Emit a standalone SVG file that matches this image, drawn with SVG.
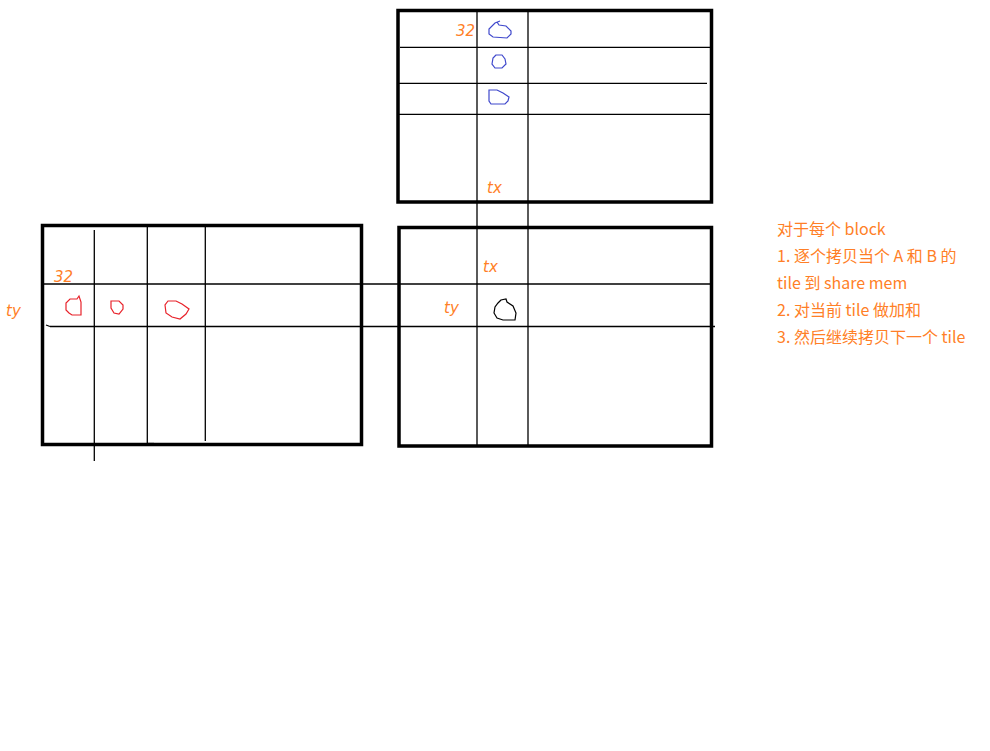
<svg xmlns="http://www.w3.org/2000/svg" width="990" height="751" viewBox="0 0 990 751">
<style>
.box{fill:none;stroke:#000;stroke-width:3.5}
.ln{stroke:#000;stroke-width:1.3;fill:none}
.hw{font-family:"DejaVu Sans",sans-serif;font-size:15px;fill:#ff7f27;font-style:italic}
.txt{font-family:"Noto Sans CJK SC","Noto Sans",sans-serif;font-size:16px;fill:#ff7f27}
.cr{fill:none;stroke:#e8222a;stroke-width:1.2}
.cb{fill:none;stroke:#3f48cc;stroke-width:1.2}
.ck{fill:none;stroke:#000;stroke-width:1.2}
</style>
<rect width="990" height="751" fill="#fff"/>
<g id="connectors">
<line class="ln" x1="477" y1="12" x2="477" y2="446"/>
<line class="ln" x1="528" y1="10" x2="528" y2="446"/>
<line class="ln" x1="43" y1="284" x2="713" y2="284"/>
<line class="ln" x1="50" y1="326.5" x2="715" y2="326.5"/>
<line class="ln" x1="46" y1="325" x2="50" y2="326.5"/>
</g>
<g id="blockB">
<rect class="box" x="398" y="10.5" width="313.5" height="191.5"/>
<line class="ln" x1="400" y1="47.3" x2="713" y2="47.3"/>
<line class="ln" x1="398" y1="83.3" x2="707" y2="83.3"/>
<line class="ln" x1="398" y1="114.3" x2="711" y2="114.3"/>
<path class="cb" d="M500,21 L495,23 L489,29 L489,34 L493,37 L507,38 L511,34 L511,31 L506,26 L499,25 L497,22"/>
<path class="cb" d="M496,55 L493,58 L492,64 L495,68 L502,68 L506,64 L505,59 L502,55 Z"/>
<path class="cb" d="M489,90 L497,90 L503,93 L509,97 L508,101 L505,104 L491,104 L489,101 Z"/>
<text class="hw" x="456" y="36">32</text>
<text class="hw" x="487" y="193">tx</text>
</g>
<g id="blockA">
<rect class="box" x="42.5" y="225.5" width="319" height="219"/>
<line class="ln" x1="94.3" y1="230" x2="94.3" y2="461"/>
<line class="ln" x1="147.3" y1="226" x2="147.3" y2="443"/>
<line class="ln" x1="147" y1="443.5" x2="154" y2="443.5"/>
<line class="ln" x1="205.3" y1="226" x2="205.3" y2="441"/>
<path class="cr" d="M79,296 L77,299 L70,299 L66,303 L66,310 L69,313 L72,315 L81,315 L81,302 Z"/>
<path class="cr" d="M111,301 L111,308 L114,313 L119,314 L123,309 L123,305 L119,301 Z"/>
<path class="cr" d="M168,301 L176,301 L182,304 L189,309 L186,314 L180,319 L172,317 L166,313 L165,305 Z"/>
<text class="hw" x="54" y="282">32</text>
<text class="hw" x="6" y="316">ty</text>
</g>
<g id="blockC">
<rect class="box" x="399" y="227.5" width="312.5" height="218.5"/>
<path class="ck" d="M501,300 L498,303 L495,307 L494,313 L497,318 L503,320 L515,320 L516,313 L513,306 L507,302 L506,299 Z"/>
<text class="hw" x="483" y="272">tx</text>
<text class="hw" x="444" y="313">ty</text>
</g>
<g id="notes">
<text class="txt" x="777" y="235">对于每个 block</text>
<text class="txt" x="777" y="262">1. 逐个拷贝当个 A 和 B 的</text>
<text class="txt" x="777" y="289">tile 到 share mem</text>
<text class="txt" x="777" y="316">2. 对当前 tile 做加和</text>
<text class="txt" x="777" y="343">3. 然后继续拷贝下一个 tile</text>
</g>
</svg>
